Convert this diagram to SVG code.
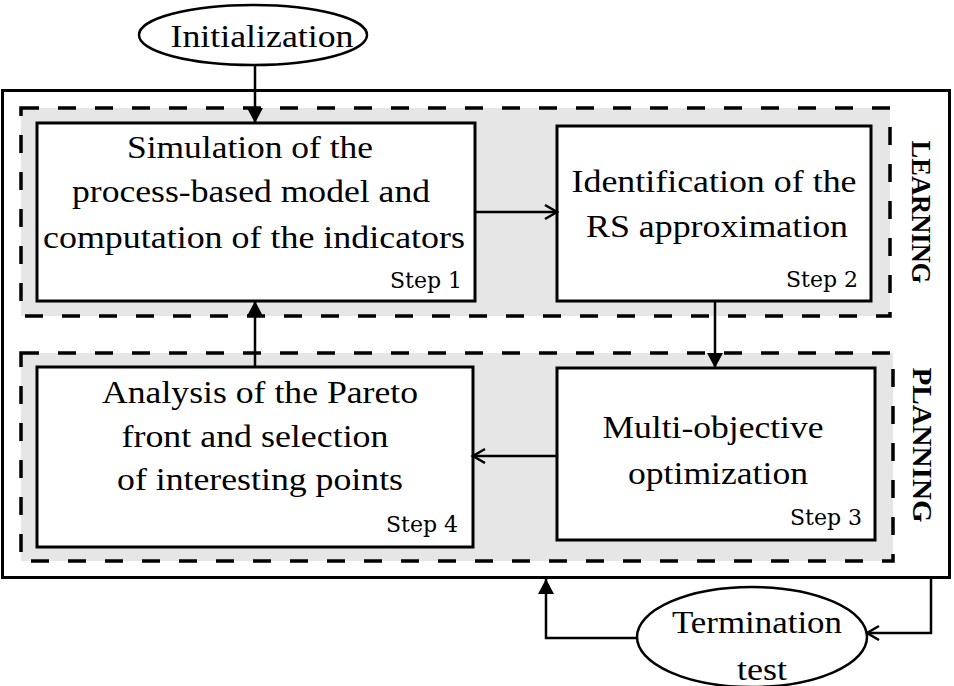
<svg xmlns="http://www.w3.org/2000/svg" width="954" height="686" viewBox="0 0 954 686">
<defs>
<style>
.t{font-family:"Liberation Serif","Times New Roman",serif;font-size:32px;fill:#000;text-anchor:middle}
.s{font-family:"DejaVu Serif","Liberation Serif",serif;font-size:22px;fill:#000;text-anchor:end}
.v{font-family:"Liberation Serif","Times New Roman",serif;font-size:28px;font-weight:bold;fill:#000;text-anchor:middle}
.box{fill:#fff;stroke:#000;stroke-width:3}
.zone{fill:#e6e6e6;stroke:#000;stroke-width:3.5;stroke-dasharray:18 19}
.ell{fill:#fff;stroke:#000;stroke-width:2.5}
.c{fill:none;stroke:#000;stroke-width:2.5}
</style>
<marker id="fa" markerUnits="userSpaceOnUse" markerWidth="18" markerHeight="18" refX="15" refY="8" orient="auto">
<path d="M0,0 L15,8 L0,16 z" fill="#000"/>
</marker>
<marker id="oa" markerUnits="userSpaceOnUse" markerWidth="18" markerHeight="18" refX="14" refY="8" orient="auto">
<path d="M2,1 L14,8 L2,15" fill="none" stroke="#000" stroke-width="2.5"/>
</marker>
</defs>
<rect width="954" height="686" fill="#fff"/>
<g id="outer"><rect x="2.5" y="90.5" width="947" height="487" fill="#fff" stroke="#000" stroke-width="3"/></g>
<g id="learning">
<rect class="zone" x="21" y="108" width="869" height="208"/>
<text class="v" transform="translate(912,212) rotate(90)" textLength="143" lengthAdjust="spacingAndGlyphs">LEARNING</text>
</g>
<g id="planning">
<rect class="zone" x="21" y="353" width="872" height="208"/>
<text class="v" transform="translate(913,445) rotate(90)" textLength="155" lengthAdjust="spacingAndGlyphs">PLANNING</text>
</g>
<g id="init">
<ellipse class="ell" cx="253" cy="35" rx="114" ry="30"/>
<text class="t" x="262" y="47" textLength="183" lengthAdjust="spacingAndGlyphs">Initialization</text>
</g>
<g id="step1">
<rect class="box" x="37" y="123" width="438" height="178"/>
<text class="t" x="250" y="158" textLength="246" lengthAdjust="spacingAndGlyphs">Simulation of the</text>
<text class="t" x="251" y="202" textLength="358" lengthAdjust="spacingAndGlyphs">process-based model and</text>
<text class="t" x="254" y="248" textLength="422" lengthAdjust="spacingAndGlyphs">computation of the indicators</text>
<text class="s" x="462" y="288">Step 1</text>
</g>
<g id="step2">
<rect class="box" x="557" y="126" width="314" height="175"/>
<text class="t" x="714" y="192" textLength="285" lengthAdjust="spacingAndGlyphs">Identification of the</text>
<text class="t" x="717" y="237" textLength="262" lengthAdjust="spacingAndGlyphs">RS approximation</text>
<text class="s" x="858" y="287">Step 2</text>
</g>
<g id="step3">
<rect class="box" x="557" y="368" width="318" height="172"/>
<text class="t" x="713" y="438" textLength="221" lengthAdjust="spacingAndGlyphs">Multi-objective</text>
<text class="t" x="718" y="484" textLength="180" lengthAdjust="spacingAndGlyphs">optimization</text>
<text class="s" x="862" y="525">Step 3</text>
</g>
<g id="step4">
<rect class="box" x="37" y="367" width="436" height="180"/>
<text class="t" x="260" y="403" textLength="316" lengthAdjust="spacingAndGlyphs">Analysis of the Pareto</text>
<text class="t" x="255" y="447" textLength="267" lengthAdjust="spacingAndGlyphs">front and selection</text>
<text class="t" x="260" y="490" textLength="286" lengthAdjust="spacingAndGlyphs">of interesting points</text>
<text class="s" x="458" y="532">Step 4</text>
</g>
<g id="termination">
<ellipse class="ell" cx="752" cy="637" rx="115" ry="50"/>
<text class="t" x="757" y="633" textLength="170" lengthAdjust="spacingAndGlyphs">Termination</text>
<text class="t" x="762" y="680" textLength="50" lengthAdjust="spacingAndGlyphs">test</text>
</g>
<g id="connectors">
<path class="c" d="M255,65 L255,123" marker-end="url(#fa)"/>
<path class="c" d="M475,212 L557,212" marker-end="url(#oa)"/>
<path class="c" d="M715,301 L715,368" marker-end="url(#fa)"/>
<path class="c" d="M557,456 L473,456" marker-end="url(#oa)"/>
<path class="c" d="M255,367 L255,301" marker-end="url(#fa)"/>
<path class="c" d="M931,578 L931,633 L867,633" marker-end="url(#oa)"/>
<path class="c" d="M637,638 L546,638 L546,579" marker-end="url(#fa)"/>
</g>
</svg>
